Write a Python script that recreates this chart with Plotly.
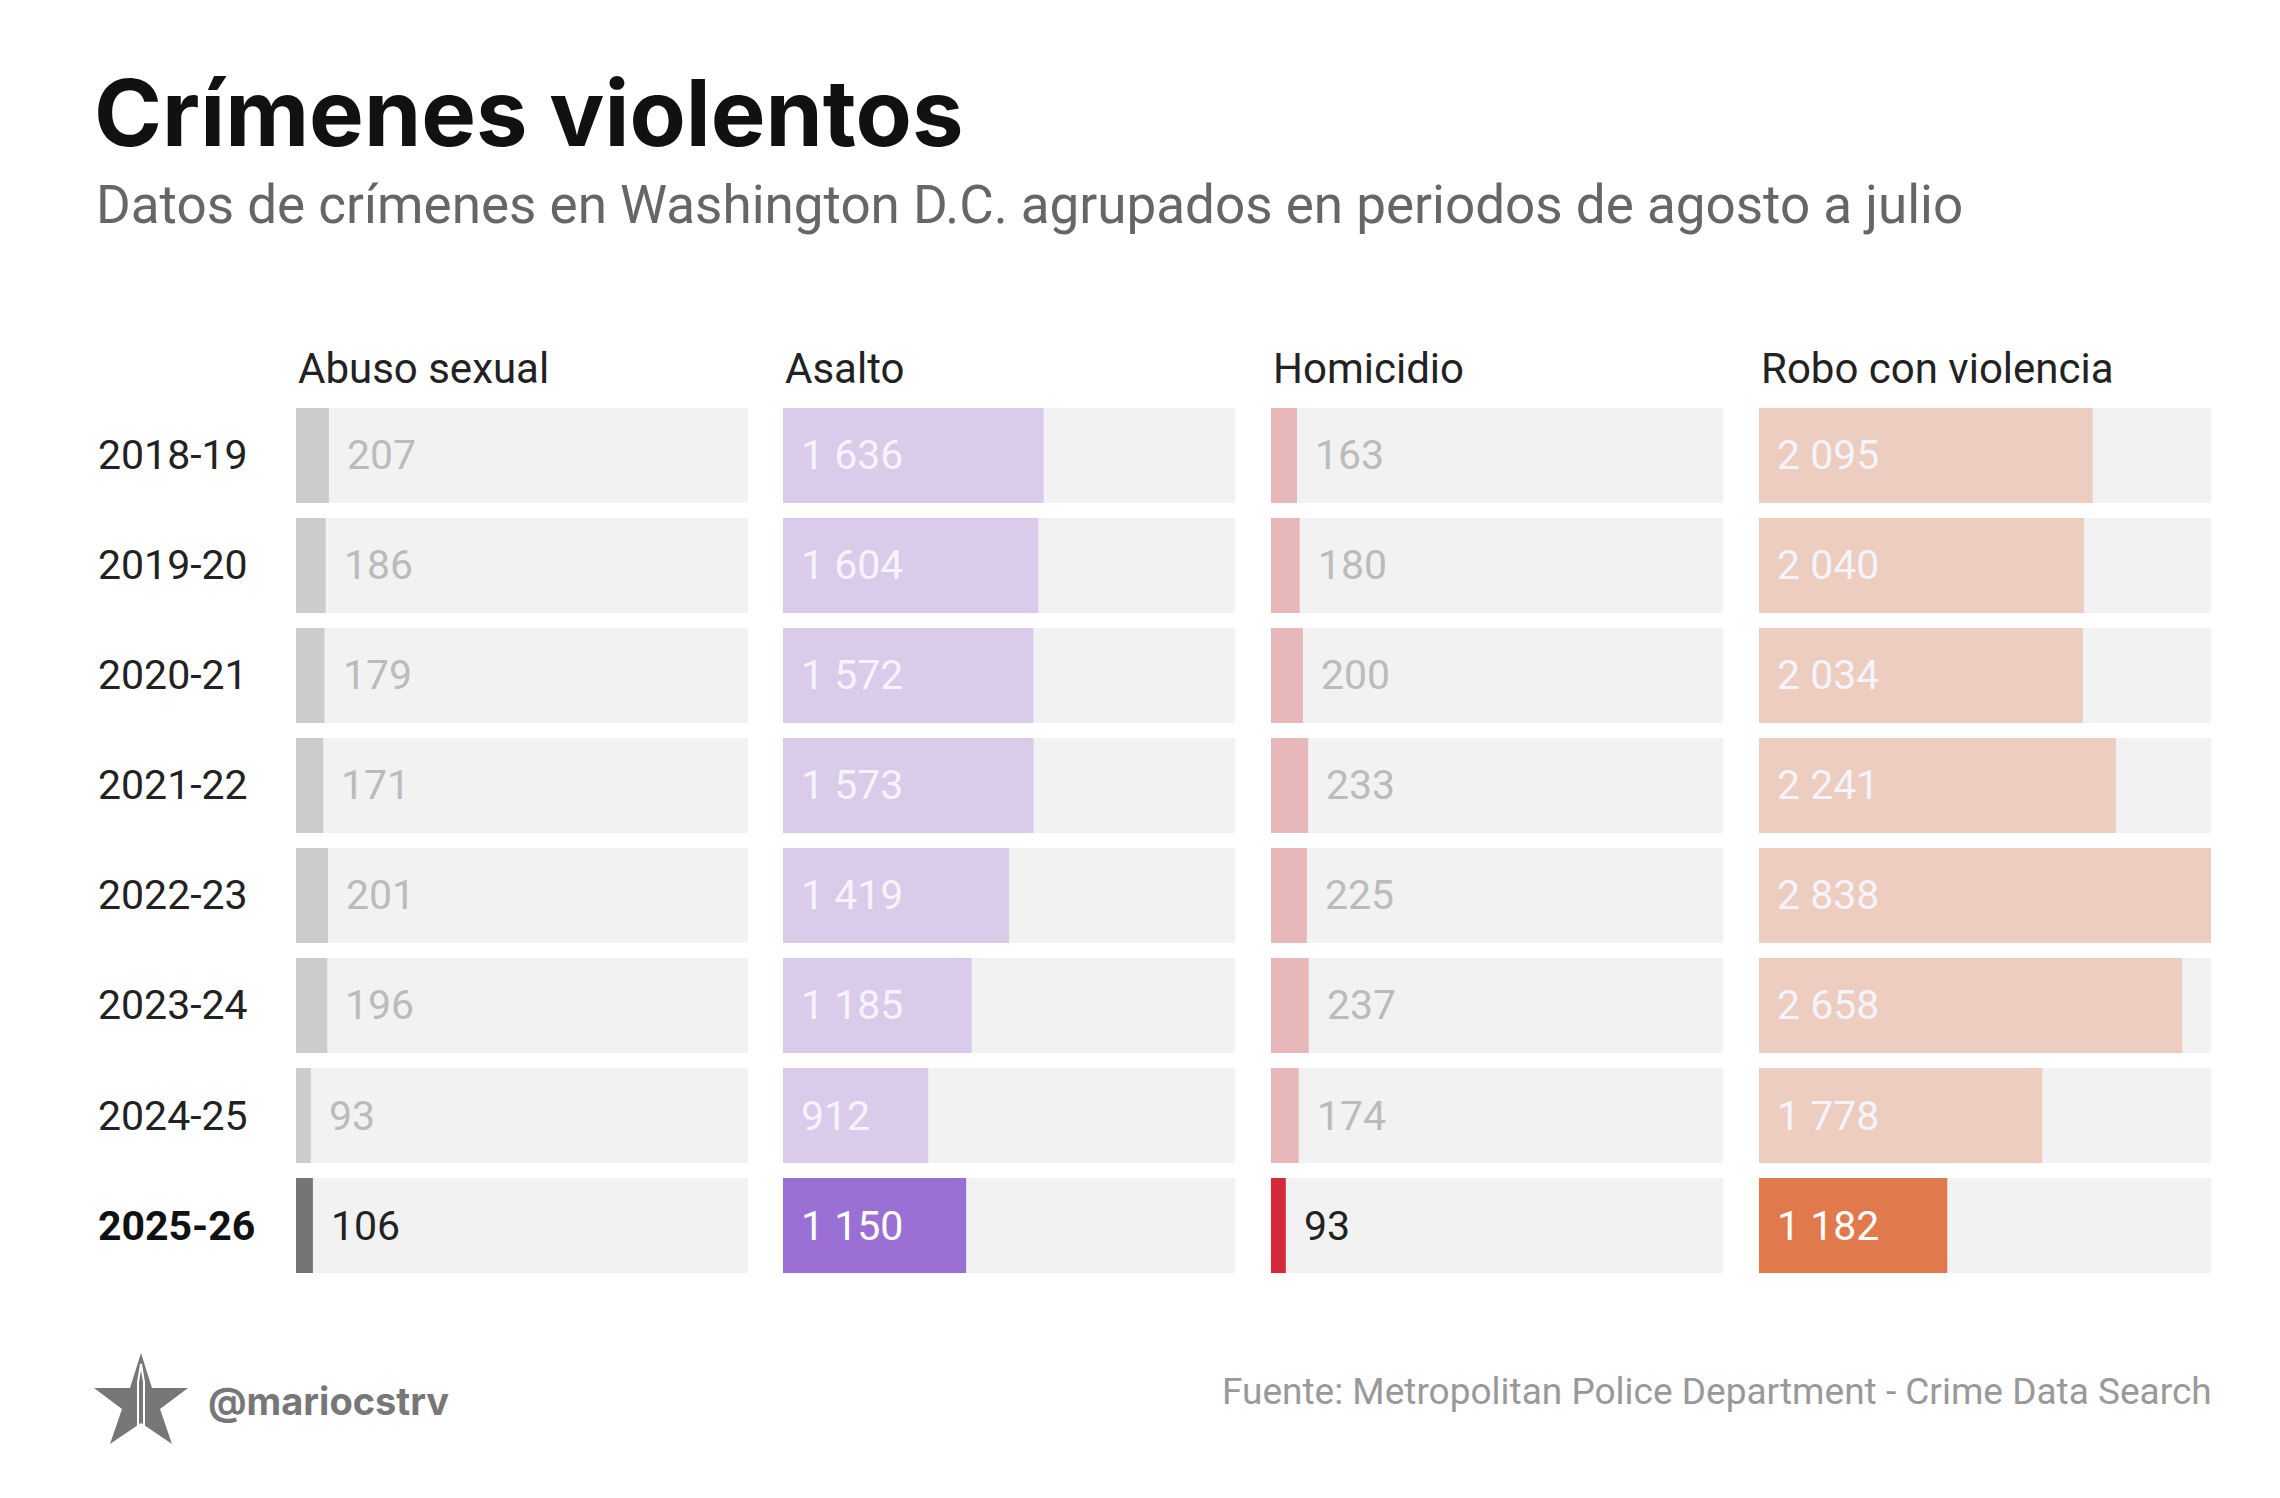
"""Crímenes violentos en Washington D.C. — small multiples of horizontal bars (plotly)."""
import plotly.graph_objects as go
from plotly.subplots import make_subplots

W, H = 2280, 1498

periods = ["2018-19", "2019-20", "2020-21", "2021-22", "2022-23", "2023-24", "2024-25", "2025-26"]
categories = ["Abuso sexual", "Asalto", "Homicidio", "Robo con violencia"]

abuso = [207, 186, 179, 171, 201, 196, 93, 106]
asalto = [1636, 1604, 1572, 1573, 1419, 1185, 912, 1150]
homicidio = [163, 180, 200, 233, 225, 237, 174, 93]
robo = [2095, 2040, 2034, 2241, 2838, 2658, 1778, 1182]

series = [abuso, asalto, homicidio, robo]
past_colors = ["#cccccc", "#d9cbe9", "#e8b7ba", "#edcdc0"]
now_colors = ["#757575", "#9b70d4", "#d62a3b", "#e07a4d"]
TRACK = "#f2f2f2"
VMAX = max(max(s) for s in series)


def px(x):
    return x / W


def py(y):
    return 1 - y / H


def fmt(v):
    return f"{v:,}".replace(",", " ")


fig = make_subplots(rows=1, cols=4, shared_yaxes=False)

# panel geometry in pixels (left edge of each panel)
lefts = [288, 775, 1263, 1751]
pw = 452
top, bottom = 392.5, 1272.5

for i, vals in enumerate(series):
    col = i + 1
    colors = [past_colors[i]] * (len(vals) - 1) + [now_colors[i]]
    fig.add_trace(go.Bar(
        x=[VMAX] * len(periods), y=periods, orientation="h",
        marker=dict(color=TRACK, line=dict(width=0)), hoverinfo="skip",
    ), row=1, col=col)
    fig.add_trace(go.Bar(
        x=vals, y=periods, orientation="h",
        marker=dict(color=colors, line=dict(width=0)),
        hovertemplate="%{y}: %{x}<extra>" + categories[i] + "</extra>",
    ), row=1, col=col)

    xa = "xaxis" if col == 1 else f"xaxis{col}"
    ya = "yaxis" if col == 1 else f"yaxis{col}"
    fig.update_layout({
        xa: dict(domain=[px(lefts[i]), px(lefts[i] + pw)], range=[0, VMAX],
                 visible=False, fixedrange=True),
        ya: dict(domain=[py(bottom), py(top)], autorange="reversed",
                 visible=False, fixedrange=True),
    })

    # column header
    fig.add_annotation(text=categories[i], xref="paper", yref="paper",
                       x=px(lefts[i]), y=py(360), xanchor="left", yanchor="middle",
                       showarrow=False, font=dict(family="Roboto", size=42, color="#222222"))

    # value labels
    xr = "x" if col == 1 else f"x{col}"
    yr = "y" if col == 1 else f"y{col}"
    for j, (p, v) in enumerate(zip(periods, vals)):
        last = j == len(vals) - 1
        inside = v > 600
        if inside:
            color = "#ffffff" if last else "#f7f3fa"
            xpos = 0
        else:
            color = "#222222" if last else "#bbbbbb"
            xpos = v
        fig.add_annotation(text=fmt(v), xref=xr, yref=yr, x=xpos, y=p,
                           xanchor="left", yanchor="middle", xshift=16,
                           showarrow=False,
                           font=dict(family="Roboto", size=41, color=color))

# row labels
for j, p in enumerate(periods):
    last = j == len(periods) - 1
    fig.add_annotation(text=f"<b>{p}</b>" if last else p, xref="paper", yref="y",
                       x=px(88), y=p, xanchor="left", yanchor="middle", showarrow=False,
                       font=dict(family="Roboto", size=41, color="#111111" if last else "#222222"))

# title / subtitle
fig.add_annotation(text="<b>Crímenes violentos</b>", xref="paper", yref="paper",
                   x=px(84), y=py(105), xanchor="left", yanchor="middle", showarrow=False,
                   font=dict(family="Inter", size=92, color="#111111"))
fig.add_annotation(text="Datos de crímenes en Washington D.C. agrupados en periodos de agosto a julio",
                   xref="paper", yref="paper", x=px(86), y=py(197), xanchor="left",
                   yanchor="middle", showarrow=False,
                   font=dict(family="Roboto", size=53, color="#666666"))

# footer
fig.add_annotation(text="<b>@mariocstrv</b>", xref="paper", yref="paper",
                   x=px(198), y=py(1393), xanchor="left", yanchor="middle", showarrow=False,
                   font=dict(family="Inter", size=38, color="#777777"))
fig.add_annotation(text="Fuente: Metropolitan Police Department - Crime Data Search",
                   xref="paper", yref="paper", x=px(2206), y=py(1383), xanchor="right",
                   yanchor="middle", showarrow=False,
                   font=dict(family="Roboto", size=37, color="#999999"))

# star logo
star = [(133, 1345), (144, 1380), (180, 1380), (152, 1401), (164, 1436),
        (133, 1415), (102, 1436), (114, 1401), (86, 1380), (122, 1380)]
path = "M " + " L ".join(f"{px(x):.5f},{py(y):.5f}" for x, y in star) + " Z"
fig.add_shape(type="path", path=path, xref="paper", yref="paper",
              fillcolor="#777777", line=dict(width=0))
spine = [(130, 1434), (130, 1374), (133, 1356), (136, 1374), (136, 1434)]
path2 = "M " + " L ".join(f"{px(x):.5f},{py(y):.5f}" for x, y in spine)
fig.add_shape(type="path", path=path2, xref="paper", yref="paper",
              fillcolor="rgba(0,0,0,0)", line=dict(width=2, color="#ffffff"))

fig.update_layout(
    width=W, height=H,
    margin=dict(l=0, r=0, t=0, b=0),
    barmode="overlay", bargap=15 / 110,
    showlegend=False,
    paper_bgcolor="#ffffff", plot_bgcolor="#ffffff",
    font=dict(family="Roboto"),
)

fig.write_html("out.html")
